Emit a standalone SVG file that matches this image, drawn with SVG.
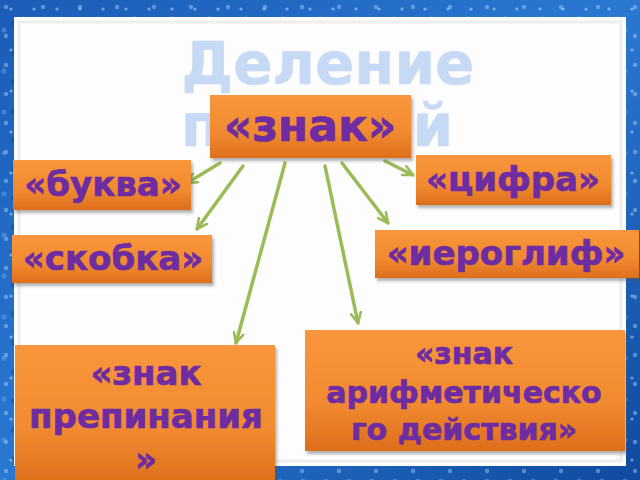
<svg xmlns="http://www.w3.org/2000/svg" width="640" height="480" viewBox="0 0 640 480">
<defs>
<linearGradient id="bg" x1="0" y1="0" x2="1" y2="1">
<stop offset="0" stop-color="#1a5cb8"/>
<stop offset="0.5" stop-color="#2a78d2"/>
<stop offset="1" stop-color="#0f4aa0"/>
</linearGradient>
<pattern id="drops" width="37" height="29" patternUnits="userSpaceOnUse">
<circle cx="6" cy="7" r="2.2" fill="#bfe0ff" opacity="0.4"/>
<circle cx="24" cy="18" r="1.4" fill="#d8ecff" opacity="0.45"/>
<circle cx="14" cy="24" r="3" fill="#0a3d88" opacity="0.4"/>
</pattern>
<pattern id="drops2" width="23" height="41" patternUnits="userSpaceOnUse">
<circle cx="11" cy="9" r="1.6" fill="#e6f3ff" opacity="0.45"/>
<circle cx="4" cy="30" r="2.6" fill="#6fb2f2" opacity="0.4"/>
</pattern>
<linearGradient id="org" x1="0" y1="0" x2="0" y2="1">
<stop offset="0" stop-color="#f9963c"/>
<stop offset="0.6" stop-color="#f18a30"/>
<stop offset="1" stop-color="#dd6e1c"/>
</linearGradient>
<filter id="sh" x="-10%" y="-10%" width="130%" height="140%">
<feDropShadow dx="2" dy="3" stdDeviation="1.5" flood-color="#555" flood-opacity="0.45"/>
</filter>
<marker id="ah" viewBox="0 0 12 12" refX="11" refY="6" markerWidth="12" markerHeight="12" markerUnits="userSpaceOnUse" orient="auto">
<path d="M1,1 L11,6 L1,11" fill="none" stroke="#9bbb59" stroke-width="2.6" stroke-linecap="round" stroke-linejoin="round"/>
</marker>
</defs>
<style>
.box{fill:url(#org);filter:url(#sh)}
.lbl{font-family:"DejaVu Sans",Verdana,sans-serif;font-weight:bold;fill:#6e2ca2;stroke:#6e2ca2;stroke-width:0.7;text-anchor:middle}
.ttl{font-family:"DejaVu Sans",Verdana,sans-serif;font-weight:bold;fill:#c6d9f5;stroke:#c6d9f5;stroke-width:0.6;text-anchor:middle;font-size:58px}
.con line{stroke:#9bbb59;stroke-width:3.5;stroke-linecap:round;marker-end:url(#ah)}
</style>
<rect x="0" y="0" width="640" height="480" fill="url(#bg)"/>
<rect x="0" y="0" width="640" height="480" fill="url(#drops)"/>
<rect x="0" y="0" width="640" height="480" fill="url(#drops2)"/>
<rect x="14" y="17" width="612" height="449" fill="#fdfdfd"/>
<rect x="19" y="22" width="602" height="439" fill="none" stroke="#eeeeee" stroke-width="3"/>
<g id="title">
<text class="ttl" x="328" y="84">Деление</text>
<text class="ttl" x="317" y="146">понятий</text>
</g>
<g class="con" id="connectors">
<line x1="220" y1="163" x2="187" y2="183"/>
<line x1="243" y1="166" x2="197" y2="229"/>
<line x1="285" y1="163" x2="236" y2="343"/>
<line x1="325" y1="166" x2="358" y2="323"/>
<line x1="342" y1="163" x2="388" y2="223"/>
<line x1="385" y1="161" x2="413" y2="175"/>
</g>
<g id="znak">
<rect class="box" x="210" y="95" width="201" height="63"/>
<text class="lbl" x="310" y="141" font-size="44">«знак»</text>
</g>
<g id="bukva">
<rect class="box" x="13" y="160" width="178" height="50"/>
<text class="lbl" x="103" y="196" font-size="34">«буква»</text>
</g>
<g id="cifra">
<rect class="box" x="416" y="155" width="195" height="50"/>
<text class="lbl" x="513" y="191" font-size="34">«цифра»</text>
</g>
<g id="skobka">
<rect class="box" x="12" y="235" width="200" height="48"/>
<text class="lbl" x="113" y="270" font-size="34">«скобка»</text>
</g>
<g id="ieroglif">
<rect class="box" x="375" y="230" width="264" height="48"/>
<text class="lbl" x="506" y="265" font-size="34">«иероглиф»</text>
</g>
<g id="prepinaniya">
<rect class="box" x="15" y="345" width="260" height="140"/>
<text class="lbl" x="146" y="385" font-size="34">«знак</text>
<text class="lbl" x="146" y="428" font-size="34">препинания</text>
<text class="lbl" x="146" y="471" font-size="34">»</text>
</g>
<g id="arifm">
<rect class="box" x="305" y="330" width="320" height="121"/>
<text class="lbl" x="464" y="364" font-size="30">«знак</text>
<text class="lbl" x="464" y="403" font-size="30">арифметическо</text>
<text class="lbl" x="464" y="440" font-size="30">го действия»</text>
</g>
</svg>
